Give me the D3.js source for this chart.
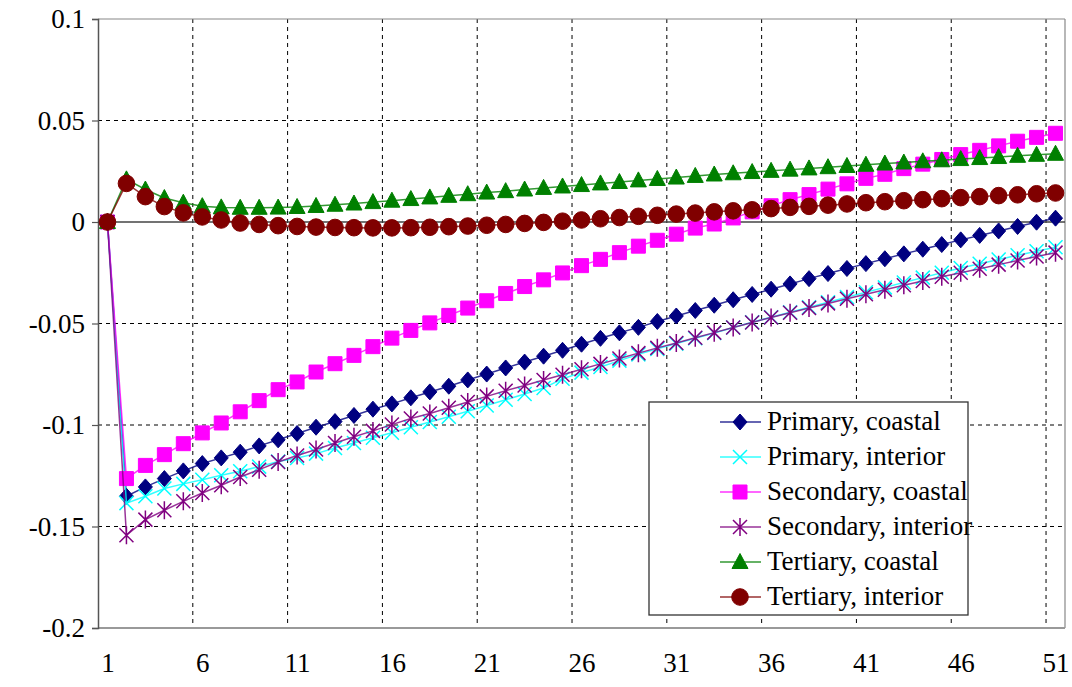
<!DOCTYPE html>
<html><head><meta charset="utf-8">
<script src="https://cdn.jsdelivr.net/npm/d3@7"></script>
<style>
html,body{margin:0;padding:0;background:#fff;}
svg{display:block;}
svg text{font-family:"Liberation Serif","DejaVu Serif","Times New Roman",serif;}
</style></head>
<body>
<svg id="chart" width="1072" height="687"></svg>
<script>
const categories = d3.range(1, 52);
const xTickLabels = [1, 6, 11, 16, 21, 26, 31, 36, 41, 46, 51];
const yTickValues = [-0.2, -0.15, -0.1, -0.05, 0, 0.05, 0.1];

const primaryCoastal = [0,-0.1351,-0.1305,-0.1264,-0.1226,-0.119,-0.1162,-0.1134,-0.1103,-0.1073,
 -0.1042,-0.1011,-0.0983,-0.0953,-0.0922,-0.0896,-0.0866,-0.0837,-0.0809,-0.0778,
 -0.0749,-0.0719,-0.069,-0.0661,-0.0632,-0.0602,-0.0573,-0.0546,-0.0519,-0.049,
 -0.0463,-0.0436,-0.041,-0.0383,-0.0357,-0.0331,-0.0305,-0.0279,-0.0254,-0.0229,
 -0.0205,-0.0181,-0.0157,-0.0134,-0.0111,-0.0088,-0.0066,-0.0044,-0.0022,-0.0001,0.0019];
const primaryInterior = [0,-0.1385,-0.1351,-0.1313,-0.129,-0.127,-0.1248,-0.1228,-0.1205,-0.118,
 -0.1163,-0.1141,-0.1113,-0.1089,-0.1063,-0.1038,-0.1011,-0.0985,-0.0959,-0.0932,
 -0.0904,-0.0876,-0.0847,-0.0818,-0.0772,-0.0742,-0.0714,-0.0683,-0.0652,-0.0625,
 -0.0599,-0.0573,-0.0547,-0.052,-0.0494,-0.0469,-0.0445,-0.042,-0.0395,-0.037,
 -0.0346,-0.0322,-0.0298,-0.0274,-0.025,-0.0227,-0.0206,-0.0185,-0.0164,-0.0144,-0.0124];
const secondaryCoastal = [0,-0.1264,-0.1199,-0.1146,-0.1092,-0.1039,-0.099,-0.0935,-0.088,-0.0826,
 -0.0788,-0.0739,-0.0698,-0.0657,-0.0614,-0.0572,-0.0534,-0.0497,-0.046,-0.0424,
 -0.0388,-0.0352,-0.0318,-0.0285,-0.0251,-0.0215,-0.0184,-0.0151,-0.0119,-0.009,
 -0.006,-0.003,-0.001,0.002,0.005,0.008,0.011,0.0135,0.0162,0.0188,
 0.0215,0.0235,0.0263,0.0285,0.0308,0.0332,0.0353,0.0375,0.0398,0.0417,0.0437];
const secondaryInterior = [0,-0.1543,-0.1466,-0.142,-0.1376,-0.1335,-0.1297,-0.1256,-0.122,-0.1182,
 -0.115,-0.1121,-0.1089,-0.1058,-0.1029,-0.0998,-0.0968,-0.0943,-0.0915,-0.0887,
 -0.0859,-0.0831,-0.0805,-0.0778,-0.0752,-0.0725,-0.0699,-0.0672,-0.0646,-0.062,
 -0.0596,-0.057,-0.0545,-0.052,-0.0495,-0.047,-0.0447,-0.0424,-0.0401,-0.0378,
 -0.0356,-0.0334,-0.0312,-0.0291,-0.027,-0.025,-0.023,-0.021,-0.019,-0.017,-0.0151];
const tertiaryCoastal = [0,0.021,0.016,0.0118,0.0095,0.0078,0.0072,0.007,0.007,0.0071,
 0.0074,0.0079,0.0085,0.0091,0.0098,0.0105,0.0113,0.0121,0.0129,0.0137,
 0.0145,0.0152,0.016,0.0168,0.0175,0.0182,0.019,0.0197,0.0205,0.0212,
 0.0219,0.0227,0.0234,0.024,0.0246,0.0252,0.0258,0.0264,0.027,0.0276,
 0.0282,0.0288,0.0293,0.0299,0.0304,0.031,0.0315,0.032,0.0326,0.0331,0.0336];
const tertiaryInterior = [0,0.019,0.0125,0.0076,0.0045,0.0025,0.001,-0.0005,-0.0012,-0.0018,
 -0.0022,-0.0025,-0.0027,-0.0028,-0.0029,-0.0029,-0.0028,-0.0026,-0.0023,-0.002,
 -0.0016,-0.0012,-0.0007,-0.0002,0.0004,0.001,0.0016,0.0022,0.0028,0.0033,
 0.0039,0.0044,0.005,0.0055,0.006,0.0066,0.0072,0.0077,0.0083,0.0089,
 0.0095,0.01,0.0105,0.011,0.0115,0.012,0.0125,0.013,0.0134,0.0139,0.0143];

const seriesNames = ["Primary, coastal","Primary, interior","Secondary, coastal","Secondary, interior","Tertiary, coastal","Tertiary, interior"];
const seriesValues = [primaryCoastal, primaryInterior, secondaryCoastal, secondaryInterior, tertiaryCoastal, tertiaryInterior];
const seriesColors = ["#000080","#00ffff","#ff00ff","#800080","#008000","#800000"];

const shapes = {
  diamond: {draw(c){ c.moveTo(0,-8); c.lineTo(7,0); c.lineTo(0,8); c.lineTo(-7,0); c.closePath(); }},
  cross:   {draw(c){ const r=7; c.moveTo(-r,-r); c.lineTo(r,r); c.moveTo(-r,r); c.lineTo(r,-r); }},
  square:  {draw(c){ c.rect(-7,-7,14,14); }},
  star:    {draw(c){ const r=7; c.moveTo(-r,-r); c.lineTo(r,r); c.moveTo(-r,r); c.lineTo(r,-r); c.moveTo(0,-9); c.lineTo(0,9); }},
  triangle:{draw(c){ c.moveTo(0,-8.5); c.lineTo(8,6.5); c.lineTo(-8,6.5); c.closePath(); }},
  circle:  {draw(c){ c.moveTo(8.3,0); c.arc(0,0,8.3,0,Math.PI*2); }}
};
const seriesShapes = ["diamond","cross","square","star","triangle","circle"];
const filled = [true,false,true,false,true,true];

const svg = d3.select("#chart");
const L = 98, R = 1065, T = 19, B = 628;

const x = d3.scalePoint().domain(categories).range([L, R]).padding(0.5);
const y = d3.scaleLinear().domain([-0.2, 0.1]).range([B, T]);
const step = x.step();

const vGrid = [5,10,15,20,25,30,35,40,45,50];
svg.append("g").selectAll("line").data(vGrid).join("line")
  .attr("x1", d => x(d) + step/2).attr("x2", d => x(d) + step/2)
  .attr("y1", T).attr("y2", B)
  .attr("stroke", "#000").attr("stroke-width", 1).attr("stroke-dasharray", "4,4");

svg.append("g").selectAll("line").data(yTickValues.filter(v => v !== 0 && v !== -0.2 && v !== 0.1)).join("line")
  .attr("x1", L).attr("x2", R).attr("y1", d => y(d)).attr("y2", d => y(d))
  .attr("stroke", "#000").attr("stroke-width", 1).attr("stroke-dasharray", "4,4");

svg.append("line").attr("x1",L).attr("x2",R).attr("y1",T).attr("y2",T).attr("stroke","#888").attr("stroke-width",1.2);
svg.append("line").attr("x1",R).attr("x2",R).attr("y1",T).attr("y2",B).attr("stroke","#888").attr("stroke-width",1.2);
svg.append("line").attr("x1",L).attr("x2",R).attr("y1",B).attr("y2",B).attr("stroke","#999").attr("stroke-width",2);

const fmt = v => String(+v.toFixed(2));
const yAxis = d3.axisLeft(y).tickValues(yTickValues).tickFormat(fmt).tickSize(6).tickPadding(7);
const gy = svg.append("g").attr("transform", `translate(${L},0)`).call(yAxis);
gy.attr("font-family", null).attr("font-size", null);
gy.select(".domain").attr("stroke", "#555").attr("stroke-width", 1.5);
gy.selectAll(".tick line").attr("stroke", "#555").attr("stroke-width", 1.2);
gy.selectAll("text").style("font-size", "27px").attr("fill", "#000");

const xAxis = d3.axisBottom(x).tickValues(xTickLabels).tickSize(0).tickPadding(25);
const gx = svg.append("g").attr("transform", `translate(0,${B})`).call(xAxis);
gx.attr("font-family", null).attr("font-size", null);
gx.select(".domain").remove();
gx.selectAll("text").style("font-size", "27px").attr("fill", "#000");

svg.append("line").attr("x1", L).attr("x2", R).attr("y1", y(0)).attr("y2", y(0))
  .attr("stroke", "#444").attr("stroke-width", 1.5);

const line = d3.line().x((d,i) => x(categories[i])).y(d => y(d));
seriesValues.forEach((vals, si) => {
  const g = svg.append("g");
  g.append("path").datum(vals).attr("d", line).attr("fill", "none")
    .attr("stroke", seriesColors[si]).attr("stroke-width", 1.5).attr("stroke-opacity", 0.8);
  const sym = d3.symbol().type(shapes[seriesShapes[si]]);
  g.selectAll("path.m").data(vals).join("path").attr("class","m")
    .attr("d", sym)
    .attr("transform", (d,i) => `translate(${x(categories[i])},${y(d)})`)
    .attr("fill", filled[si] ? seriesColors[si] : "none")
    .attr("stroke", seriesColors[si]).attr("stroke-width", filled[si] ? 1 : 1.5);
});

const lg = svg.append("g");
lg.append("rect").attr("x", 649).attr("y", 402).attr("width", 319).attr("height", 213)
  .attr("fill", "#fff").attr("stroke", "#333").attr("stroke-width", 1.3);
const rowY = i => 422 + i * 35;
seriesNames.forEach((name, si) => {
  const yy = rowY(si);
  lg.append("line").attr("x1", 720).attr("x2", 761).attr("y1", yy).attr("y2", yy)
    .attr("stroke", seriesColors[si]).attr("stroke-width", 1.5).attr("stroke-opacity", 0.8);
  lg.append("path").attr("d", d3.symbol().type(shapes[seriesShapes[si]])())
    .attr("transform", `translate(740,${yy})`)
    .attr("fill", filled[si] ? seriesColors[si] : "none")
    .attr("stroke", seriesColors[si]).attr("stroke-width", filled[si] ? 1 : 1.5);
  lg.append("text").attr("x", 767).attr("y", yy + 8)
    .style("font-size", "27px").attr("fill", "#000").text(name);
});
</script>
</body></html>
